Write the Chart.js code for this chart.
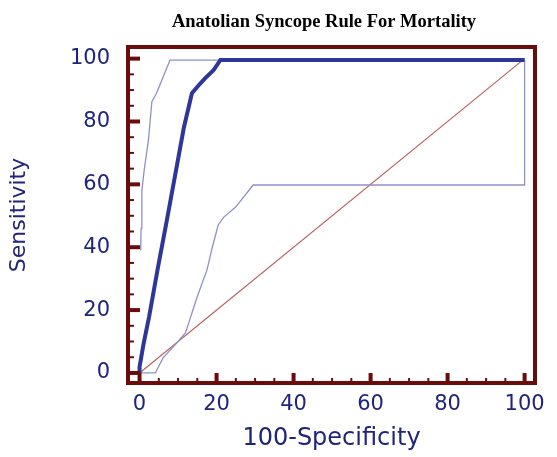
<!DOCTYPE html>
<html><head><meta charset="utf-8">
<script src="https://cdn.jsdelivr.net/npm/chart.js@4.4.1/dist/chart.umd.min.js"></script>
<style>html,body{margin:0;padding:0;background:#fff;}</style>
</head><body>
<canvas id="c" width="557" height="457"></canvas>
<script>
const titleText = 'Anatolian Syncope Rule For Mortality';
const xTitle = '100-Specificity';
const yTitle = 'Sensitivity';
const majorTicks = [0, 20, 40, 60, 80, 100];
const minorTicks = [5, 10, 15, 25, 30, 35, 45, 50, 55, 65, 70, 75, 85, 90, 95];

// ROC curve
const rocX = [0, 0, 0.3, 1, 2.5, 4.7, 7, 9.4, 11.5, 13.6, 15.7, 17, 19.2, 21, 100];
const rocY = [0, 2, 4, 9, 18, 33, 48, 64, 78, 89, 92, 93.7, 96.3, 99.6, 99.6];
// upper confidence bound
const upX = [0.3, 0.4, 0.6, 1.2, 2.3, 3.2, 4.4, 5.8, 7.9, 100];
const upY = [39, 46, 58, 64.5, 74, 86.3, 89, 93.2, 99.5, 99.5];
// lower confidence bound
const loX = [0, 4.1, 6.1, 10, 11.9, 12.7, 14.9, 17.5, 18.9, 20.4, 21.8, 24.9, 29.5, 100, 100];
const loY = [0, 0, 4.8, 10, 12.7, 15.6, 24, 32.7, 40, 47, 49.5, 52.7, 59.8, 59.8, 99.5];
// reference diagonal
const diagX = [0, 100];
const diagY = [0, 100];

const pts = (xs, ys) => xs.map((x, i) => ({x: x, y: ys[i]}));

const FRAME = '#6a0c0c';
const TEXT = '#20247a';

const decor = {
  id: 'decor',
  afterDraw(chart) {
    const ctx = chart.ctx, a = chart.chartArea;
    const xs = chart.scales.x, ys = chart.scales.y;
    ctx.save();
    ctx.strokeStyle = FRAME;
    ctx.lineCap = 'butt';
    // major ticks (inward)
    ctx.lineWidth = 4;
    majorTicks.forEach(v => {
      const py = ys.getPixelForValue(v);
      ctx.beginPath(); ctx.moveTo(a.left, py); ctx.lineTo(a.left + 12, py); ctx.stroke();
      const px = xs.getPixelForValue(v);
      ctx.beginPath(); ctx.moveTo(px, a.bottom); ctx.lineTo(px, a.bottom - 10); ctx.stroke();
    });
    ctx.lineWidth = 2;
    minorTicks.forEach(v => {
      const py = ys.getPixelForValue(v);
      ctx.beginPath(); ctx.moveTo(a.left, py); ctx.lineTo(a.left + 6, py); ctx.stroke();
      const px = xs.getPixelForValue(v);
      ctx.beginPath(); ctx.moveTo(px, a.bottom); ctx.lineTo(px, a.bottom - 5); ctx.stroke();
    });
    // frame
    ctx.lineWidth = 4;
    ctx.strokeRect(a.left, a.top, a.right - a.left, a.bottom - a.top);
    // title
    ctx.fillStyle = '#000';
    ctx.font = 'bold 18.5px "Liberation Serif", "Times New Roman", serif';
    ctx.textAlign = 'center';
    ctx.textBaseline = 'alphabetic';
    ctx.fillText(titleText, 324, 27);
    ctx.restore();
  }
};

new Chart(document.getElementById('c'), {
  type: 'scatter',
  data: {
    datasets: [
      {label: 'ROC', data: pts(rocX, rocY), showLine: true, borderColor: '#2f3699', borderWidth: 4, pointRadius: 0, tension: 0},
      {label: 'Upper', data: pts(upX, upY), showLine: true, borderColor: '#8e91c6', borderWidth: 1.3, pointRadius: 0, tension: 0},
      {label: 'Lower', data: pts(loX, loY), showLine: true, borderColor: '#8e91c6', borderWidth: 1.3, pointRadius: 0, tension: 0},
      {label: 'Diagonal', data: pts(diagX, diagY), showLine: true, borderColor: '#b86262', borderWidth: 1.2, pointRadius: 0, tension: 0}
    ]
  },
  options: {
    responsive: false,
    animation: false,
    devicePixelRatio: 1,
    layout: {padding: {top: 47, right: 22, left: 0, bottom: 0}},
    plugins: {legend: {display: false}, tooltip: {enabled: false}, title: {display: false}},
    scales: {
      x: {
        type: 'linear', min: -3, max: 102.7,
        afterBuildTicks: s => { s.ticks = majorTicks.map(v => ({value: v})); },
        afterFit: s => { s.height = 74; },
        grid: {display: false, drawTicks: false},
        border: {display: false},
        ticks: {padding: 9, color: TEXT, font: {family: '"DejaVu Sans"', size: 21}},
        title: {display: true, text: xTitle, color: TEXT, padding: {top: 0, bottom: 4}, font: {family: '"DejaVu Sans"', size: 24}}
      },
      y: {
        type: 'linear', min: -3.2, max: 103.7,
        afterBuildTicks: s => { s.ticks = majorTicks.map(v => ({value: v})); },
        afterFit: s => { s.width = 128; },
        grid: {display: false, drawTicks: false},
        border: {display: false},
        ticks: {padding: 18, color: TEXT, font: {family: '"DejaVu Sans"', size: 21}},
        title: {display: true, text: yTitle, color: TEXT, padding: {top: 6, bottom: 0}, font: {family: '"DejaVu Sans"', size: 22}}
      }
    }
  },
  plugins: [decor]
});
</script>
</body></html>
